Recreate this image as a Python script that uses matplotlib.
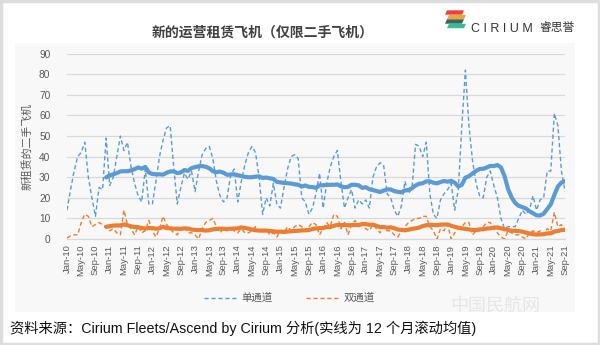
import numpy as np
import pandas as pd
import matplotlib
matplotlib.use("Agg")
import matplotlib.pyplot as plt
from matplotlib.patches import Rectangle, Polygon
from matplotlib.lines import Line2D

plt.rcParams['font.family'] = ['Liberation Sans', 'Noto Sans CJK SC', 'DejaVu Sans']

# ---------------- data ----------------
months = pd.date_range("2010-01-01", "2021-09-01", freq="MS")
month_labels = [d.strftime("%b-%y") for d in months]

single_aisle = [
    14, 24, 33, 40, 42, 47, 30, 20, 11, 25, 24, 49,
    26, 30, 40, 50, 43, 47, 35, 27, 21, 18, 34, 17,
    17, 28, 40, 48, 54, 55, 35, 17, 25, 32, 29, 33,
    23, 33, 41, 44, 45, 39, 28, 21, 18, 20, 31, 34,
    18, 28, 36, 42, 45, 42, 30, 12, 20, 16, 27, 17,
    15, 25, 34, 40, 41, 39, 20, 18, 12, 15, 22, 32,
    15, 27, 35, 40, 43, 28, 15, 20, 24, 15, 19, 17,
    19, 15, 30, 35, 37, 36, 22, 20, 14, 11, 16, 28,
    22, 25, 46, 45, 40, 47, 22, 12, 10, 19, 22, 24,
    27, 14, 24, 55, 82, 55, 38, 27, 21, 20, 30, 33,
    26, 20, 10, 5, 6, 6, 6, 10, 14, 12, 14, 21,
    14, 19, 20, 33, 33, 61, 55, 33, 23,
]
twin_aisle = [
    0.5, 1.5, 2, 2, 8, 12, 11, 6, 7, 8, 7, 6,
    4, 5, 3, 2, 14, 7, 5, 2, 6, 3, 4, 9,
    4, 1, 5, 11, 7, 5, 3, 2, 5, 6, 3, 3,
    2, 0, 5, 8, 9, 10, 6, 3, 5, 4, 5, 4,
    3, 5, 3, 3, 4, 6, 4, 3, 5, 2, 3, 1,
    4, 3, 6, 4, 6, 7, 6, 4, 6, 8, 7, 2,
    5, 8, 6, 12, 11, 5, 8, 2, 7, 9, 6, 8,
    5, 4, 7, 5, 3, 6, 4, 4, 2, 1, 4, 6,
    8, 9, 10, 10, 11, 11, 6, 4, 0, 5, 4, 7,
    0, 3, 5, 6, 8, 8, 2, 4, 4, 6, 8, 8,
    5, 3, 1, 0, 4, 3, 2, 2, 1, 0, 3, 4,
    3, 4, 2, 5, 4, 13, 6, 7, 3.5,
]
series_names = ["单通道", "双通道"]
y_ticks = [0, 10, 20, 30, 40, 50, 60, 70, 80, 90]

df = pd.DataFrame({"single": single_aisle, "twin": twin_aisle}, index=month_labels)
roll = df.rolling(12).mean()   # 12-month rolling mean (solid lines)

# ---------------- figure ----------------
W, H = 600, 345
fig = plt.figure(figsize=(W / 100, H / 100), dpi=100)
fig.patch.set_facecolor("white")

def fx(px):
    return px / W

def fy(py):
    return 1 - py / H

# panel background and outer border
fig.patches.append(Rectangle((fx(15), fy(312)), fx(575) - fx(15), fy(43) - fy(312),
                             transform=fig.transFigure, facecolor="#f8f8f8",
                             edgecolor="none", zorder=-10))
fig.patches.append(Rectangle((0.002, 0.003), 0.996, 0.994, transform=fig.transFigure,
                             facecolor="none", edgecolor="#dddddd", linewidth=2.5, zorder=-5))

ax = fig.add_axes([fx(67), fy(239), fx(565) - fx(67), fy(53.7) - fy(239)])
ax.set_facecolor("none")

x = np.arange(len(df))
blue = "#5b9bd5"
orange = "#ed7d31"

ax.plot(x, df["single"], color=blue, lw=1.0, ls=(0, (3, 2)), zorder=3)
ax.plot(x, df["twin"], color=orange, lw=1.0, ls=(0, (3, 2)), zorder=3)
ax.plot(x, roll["single"], color=blue, lw=3.0, solid_capstyle="round", zorder=4)
ax.plot(x, roll["twin"], color=orange, lw=3.0, solid_capstyle="round", zorder=4)

ax.set_xlim(0, len(df) - 1)
ax.set_ylim(0, 90)
ax.set_yticks(y_ticks)
ax.yaxis.grid(True, color="#d9d9d9", lw=0.9)
ax.set_axisbelow(True)
for s in ["top", "right", "left"]:
    ax.spines[s].set_visible(False)
ax.spines["bottom"].set_color("#d9d9d9")
ax.spines["bottom"].set_linewidth(0.9)
ax.tick_params(axis="both", length=0, colors="#595959", labelsize=7.3)
ax.tick_params(axis="y", pad=12)
ax.tick_params(axis="x", pad=4)
ax.set_xticks(x[::4])
ax.set_xticklabels(month_labels[::4], rotation=90, fontsize=6.8, color="#595959")

ax.set_ylabel("新租赁的二手飞机", fontsize=7.8, color="#595959", labelpad=5,
              family=["Noto Sans CJK SC", "DejaVu Sans"])

# legend (dashed series only)
handles = [Line2D([], [], color=blue, lw=1.0, ls=(0, (3, 2))),
           Line2D([], [], color=orange, lw=1.0, ls=(0, (3, 2)))]
leg = fig.legend(handles, series_names, loc="center", ncol=2,
                 bbox_to_anchor=(fx(289), fy(298)), frameon=False,
                 handlelength=3.2, handletextpad=0.4, columnspacing=3.2,
                 prop={"family": ["Noto Sans CJK SC", "DejaVu Sans"], "size": 7.5})
for t in leg.get_texts():
    t.set_color("#595959")

# title
fig.text(fx(263), fy(33), "新的运营租赁飞机（仅限二手飞机）", ha="center", va="center",
         fontsize=10, fontweight="bold", color="#404040",
         family=["Noto Sans CJK SC", "DejaVu Sans"])

# logo
icon_cols = ["#e8403f", "#f2a33a", "#2f6b5e", "#3fb59a"]
bars = [(12.5, 447), (17, 449), (21.5, 447), (26, 449)]
for (yy, xx), c in zip(bars, icon_cols):
    poly = Polygon([(fx(xx), fy(yy - 2.2)), (fx(xx + 17), fy(yy - 2.2)),
                    (fx(xx + 15), fy(yy + 2.2)), (fx(xx - 2), fy(yy + 2.2))],
                   closed=True, transform=fig.transFigure, facecolor=c,
                   edgecolor="none")
    fig.patches.append(poly)
fig.text(fx(471), fy(29), "C I R I U M", ha="left", va="center", fontsize=9,
         color="#333333", family=["Liberation Sans"])
fig.text(fx(540), fy(28), "睿思誉", ha="left", va="center", fontsize=8.5,
         color="#333333", family=["Noto Sans CJK SC"])

# source note
fig.text(fx(10), fy(328), "资料来源：Cirium Fleets/Ascend by Cirium 分析(实线为 12 个月滚动均值)",
         ha="left", va="center", fontsize=10.3, color="#111111",
         family=["Liberation Sans", "Noto Sans CJK SC"])

# faint watermark
fig.text(fx(495), fy(306), "中国民航网", ha="center", va="center", fontsize=13,
         color="#e6e6e6", family=["Noto Sans CJK SC"], zorder=-1)

fig.savefig("out.png", dpi=100, facecolor="white")
